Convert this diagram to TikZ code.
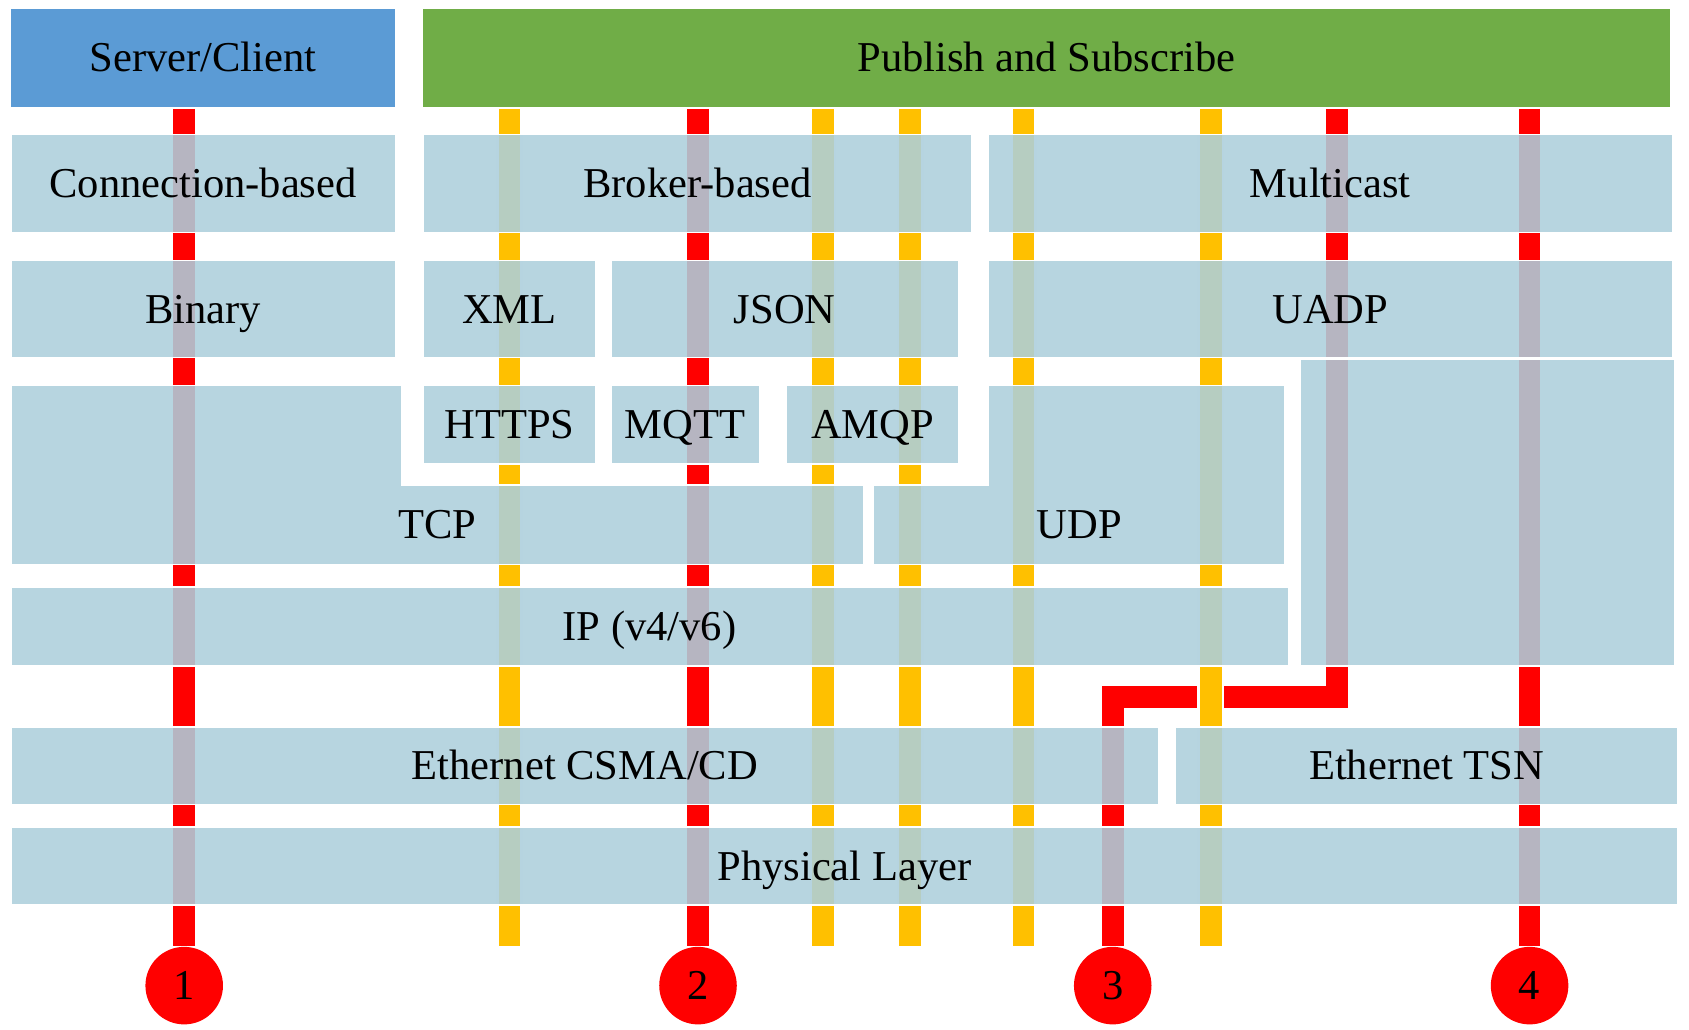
\documentclass[tikz,border=0pt]{standalone}
\usepackage{fontspec}
\setmainfont{Liberation Serif}
\definecolor{scblue}{RGB}{91,155,213}
\definecolor{psgreen}{RGB}{112,173,71}
\definecolor{layerblue}{RGB}{173,207,220}
\definecolor{pipered}{RGB}{255,0,0}
\definecolor{pipeyellow}{RGB}{255,192,0}
\tikzset{
  lbl/.style={text height=26pt, text depth=0pt},
  area/.style={fill=layerblue, fill opacity=0.88, draw=white, line width=1.5pt},
  layer/.style={area, lbl, text opacity=1, inner sep=0pt, outer sep=0pt},
  head/.style={lbl, inner sep=0pt, outer sep=0pt, minimum height=91pt},
  redpipe/.style={draw=pipered, line width=20pt, shorten <=2pt},
  yellowpipe/.style={draw=pipeyellow, line width=20pt, shorten <=2pt,
    preaction={draw=white, line width=25pt, shorten <=2pt}},
  num/.style={lbl, circle, fill=pipered, minimum size=72pt, inner sep=0pt}
}
\begin{document}
\begin{tikzpicture}[x=1pt, y=-1pt, font=\fontsize{39.5}{45}\selectfont]
    \useasboundingbox (0,0) rectangle (1568,956);
    \node[head, fill=scblue, minimum width=357pt] (sc) at (188.5,53.5) {Server/Client};
    \node[head, fill=psgreen, minimum width=1157pt] (ps) at (971.5,53.5) {Publish and Subscribe};
    \node[num] (c1) at (171,915) {1};
    \node[num] (c2) at (648,915) {2};
    \node[num] (c3) at (1033,915) {3};
    \node[num] (c4) at (1420,915) {4};
    \coordinate (k1) at (1241,647);
    \coordinate (k2) at (1033,647);
    \draw[redpipe, shorten >=1pt] (c1 |- sc.south) -- (c1.north);
    \draw[redpipe, shorten >=1pt] (c2 |- ps.south) -- (c2.north);
    \draw[redpipe, shorten >=1pt] (c4 |- ps.south) -- (c4.north);
    \draw[redpipe, shorten >=1pt, line join=miter] (k1 |- ps.south) -- (k1) -- (k2) -- (c3.north);
    \foreach \x [count=\i] in {473,764,845,950,1124} {
      \coordinate (y\i) at (\x,878);
      \draw[yellowpipe] (y\i |- ps.south) -- (y\i);
    }
    \node[layer, minimum width=357pt, minimum height=91pt] (cb) at (188.5,170.5) {Connection-based};
    \node[layer, minimum width=509pt, minimum height=91pt] (bb) at (647.5,170.5) {Broker-based};
    \node[layer, minimum width=636pt, minimum height=91pt] (mc) at (1235,170.5) {Multicast};
    \node[layer, minimum width=357pt, minimum height=90pt] (bin) at (188.5,287) {Binary};
    \node[layer, minimum width=160pt, minimum height=90pt] (xml) at (473,287) {XML};
    \node[layer, minimum width=323pt, minimum height=90pt] (json) at (728.5,287) {JSON};
    \node[layer, minimum width=636pt, minimum height=90pt] (uadp) at (1235,287) {UADP};
    \node[layer, minimum width=160pt, minimum height=73pt] (https) at (473,394.5) {HTTPS};
    \node[layer, minimum width=138pt, minimum height=73pt] (mqtt) at (636,394.5) {MQTT};
    \node[layer, minimum width=160pt, minimum height=73pt] (amqp) at (810,394.5) {AMQP};
    \path[area] (10,358) -- (373,358) -- (373,450) -- (802,450) -- (802,524) -- (10,524) -- cycle;
    \node[lbl] (tcp) at (406,487) {TCP};
    \path[area] (917,358) -- (1193,358) -- (1193,524) -- (811,524) -- (811,450) -- (917,450) -- cycle;
    \node[lbl] (udp) at (1002,487) {UDP};
    \node[layer, minimum width=348pt, minimum height=285pt] (l2) at (1381,475.5) {};
    \node[layer, minimum width=1186pt, minimum height=73pt] (ip) at (603,581.5) {IP (v4/v6)};
    \node[layer, minimum width=1066pt, minimum height=72pt] (csma) at (543,711) {Ethernet CSMA/CD};
    \node[layer, minimum width=467pt, minimum height=72pt] (tsn) at (1324.5,711) {Ethernet TSN};
    \node[layer, minimum width=1548pt, minimum height=72pt] (phy) at (784,804) {Physical Layer};
\end{tikzpicture}
\end{document}
